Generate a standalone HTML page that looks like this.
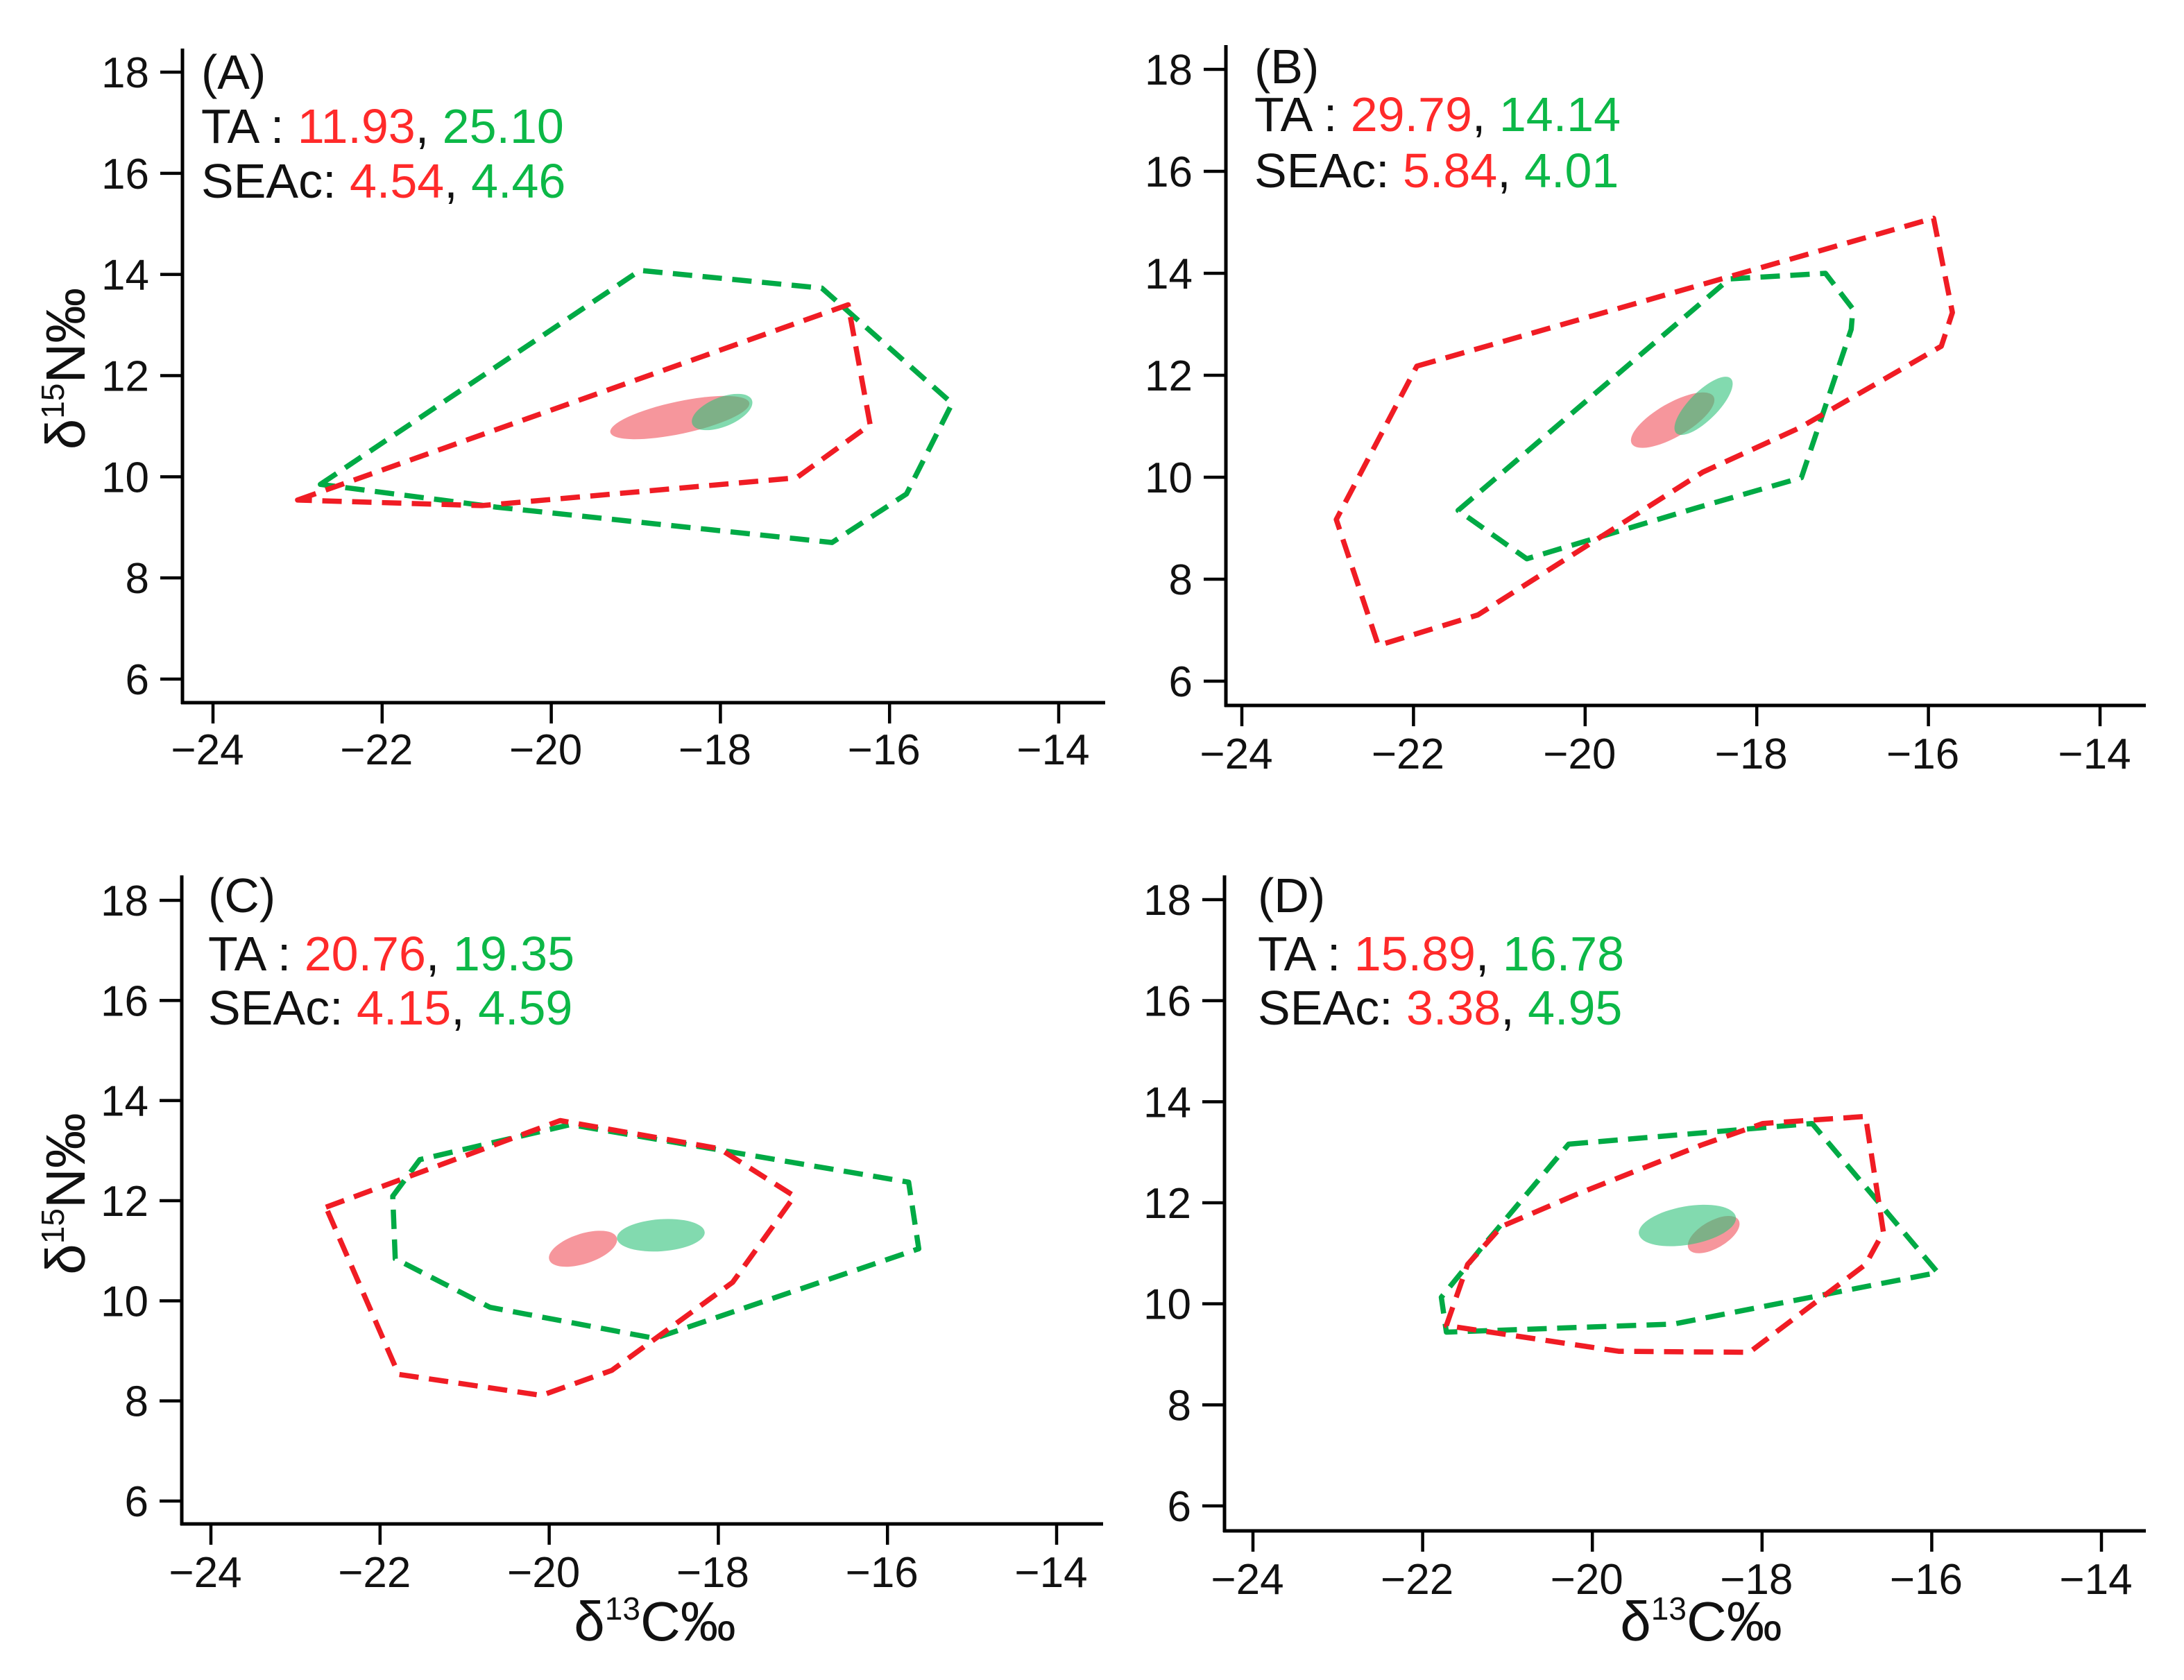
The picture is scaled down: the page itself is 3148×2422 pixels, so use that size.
<!DOCTYPE html>
<html><head><meta charset="utf-8">
<style>
html,body{margin:0;padding:0;background:#fff;}
svg{display:block;font-family:"Liberation Sans",Arial,sans-serif;}
</style></head>
<body>
<svg id="fig" width="3148" height="2422" viewBox="0 0 3148 2422" xmlns="http://www.w3.org/2000/svg">
<rect x="0" y="0" width="3148" height="2422" fill="#fff"/>
</svg>
<script>
// ---- data ----
const xTicks = [-24, -22, -20, -18, -16, -14];
const yTicks = [6, 8, 10, 12, 14, 16, 18];
const panelLabels = ["(A)", "(B)", "(C)", "(D)"];
const taRed = ["11.93", "29.79", "20.76", "15.89"];
const taGreen = ["25.10", "14.14", "19.35", "16.78"];
const seaRed = ["4.54", "5.84", "4.15", "3.38"];
const seaGreen = ["4.46", "4.01", "4.59", "4.95"];

const redHullA_x = [-23.0, -16.49, -16.23, -17.10, -20.82];
const redHullA_y = [9.54, 13.40, 11.03, 9.98, 9.43];
const greenHullA_x = [-22.73, -18.95, -16.80, -15.26, -15.80, -16.68, -20.65];
const greenHullA_y = [9.85, 14.08, 13.73, 11.45, 9.66, 8.70, 9.40];

const redHullB_x = [-21.96, -15.94, -15.72, -15.85, -17.5, -18.63, -21.25, -22.41, -22.9];
const redHullB_y = [12.18, 15.08, 13.23, 12.57, 10.97, 10.1, 7.3, 6.7, 9.17];
const greenHullB_x = [-21.48, -18.32, -17.2, -16.88, -16.9, -17.48, -18.7, -20.68];
const greenHullB_y = [9.35, 13.89, 14.0, 13.3, 12.9, 9.99, 9.4, 8.4];

const redHullC_x = [-22.64, -19.87, -17.99, -17.1, -17.83, -19.26, -20.09, -21.78];
const redHullC_y = [11.87, 13.6, 13.04, 12.09, 10.37, 8.61, 8.11, 8.53];
const greenHullC_x = [-21.85, -21.53, -19.75, -15.75, -15.63, -18.75, -20.7, -21.82];
const greenHullC_y = [12.09, 12.82, 13.52, 12.37, 11.04, 9.25, 9.87, 10.84];

const redHullD_x = [-21.72, -21.47, -21.07, -20.18, -18.72, -17.99, -16.78, -16.57, -16.78, -18.15, -19.69];
const redHullD_y = [9.57, 10.78, 11.53, 12.17, 13.14, 13.57, 13.71, 11.42, 10.78, 9.04, 9.06];
const greenHullD_x = [-20.28, -17.41, -15.93, -19.04, -21.72, -21.78, -21.31];
const greenHullD_y = [13.16, 13.57, 10.62, 9.6, 9.44, 10.13, 11.1];

// ellipses: centre x, centre y, semi-axes (x units, y units), screen angle
const redEllCx = [-18.48, -18.98, -19.6, -18.57];
const redEllCy = [11.17, 11.12, 11.04, 11.37];
const redEllRx = [0.84, 0.55, 0.42, 0.34];
const redEllRy = [0.32, 0.33, 0.30, 0.27];
const redEllAng = [-12, -30, -18, -30];
const greenEllCx = [-17.98, -18.62, -18.68, -18.88];
const greenEllCy = [11.28, 11.4, 11.31, 11.55];
const greenEllRx = [0.38, 0.45, 0.52, 0.58];
const greenEllRy = [0.29, 0.28, 0.32, 0.38];
const greenEllAng = [-22, -45, -4, -10];

const redHullsX = [redHullA_x, redHullB_x, redHullC_x, redHullD_x];
const redHullsY = [redHullA_y, redHullB_y, redHullC_y, redHullD_y];
const greenHullsX = [greenHullA_x, greenHullB_x, greenHullC_x, greenHullD_x];
const greenHullsY = [greenHullA_y, greenHullB_y, greenHullC_y, greenHullD_y];

// ---- layout (pixels) ----
const layout = [
  {ax:263, axY:1013, top:70, right:1593, x0:307, x1:1526, y18:104, y6:979, lx:290, b1:128, b2:206, b3:285, xlabBase:1102, yTitle:true, xTitle:false, xtc:0},
  {ax:1767, axY:1017, top:65, right:3093, x0:1790, x1:3027, y18:100, y6:982, lx:1808, b1:120, b2:189, b3:270, xlabBase:1108, yTitle:false, xTitle:false, xtc:0},
  {ax:262, axY:2197, top:1262, right:1590, x0:304, x1:1523, y18:1298, y6:2164, lx:300, b1:1315, b2:1399, b3:1477, xlabBase:2288, yTitle:true, xTitle:true, xtc:944},
  {ax:1765, axY:2207, top:1262, right:3093, x0:1806, x1:3029, y18:1297, y6:2171, lx:1813, b1:1315, b2:1399, b3:1477, xlabBase:2298, yTitle:false, xTitle:true, xtc:2452}
];
const RED = "#f01c24", GREEN = "#00aa45", TRED = "#ff2a2a", TGREEN = "#0cb847";
const NS = "http://www.w3.org/2000/svg";
const svg = document.getElementById("fig");
function mk(tag, attrs, parent){
  const e = document.createElementNS(NS, tag);
  for (const k in attrs) e.setAttribute(k, attrs[k]);
  (parent||svg).appendChild(e);
  return e;
}
const ids = ["a","b","c","d"];
layout.forEach((L, i) => {
  const g = mk("g", {});
  
  
  const sx = v => L.x0 + (v + 24) * (L.x1 - L.x0) / 10;
  const sy = v => L.y6 - (v - 6) * (L.y6 - L.y18) / 12;

  const drawHull = (xs, ys, col, nm) => {
    const pts = xs.map((x, k) => sx(x).toFixed(1) + "," + sy(ys[k]).toFixed(1)).join(" ");
    const p = mk("polygon", {points: pts, fill:"none", stroke: col, "stroke-width": 7.5, "stroke-dasharray": "28 15", "stroke-linejoin":"round"}, g);
    
    
  };
  drawHull(greenHullsX[i], greenHullsY[i], GREEN, 'green-convex-hull');
  drawHull(redHullsX[i], redHullsY[i], RED, 'red-convex-hull');

  const ppx = (L.x1 - L.x0) / 10, ppy = (L.y6 - L.y18) / 12;
  const re = mk("ellipse", {cx: sx(redEllCx[i]), cy: sy(redEllCy[i]), rx: redEllRx[i]*ppx, ry: redEllRy[i]*ppy,
    transform: "rotate(" + redEllAng[i] + " " + sx(redEllCx[i]) + " " + sy(redEllCy[i]) + ")", fill:"#f05560", "fill-opacity":0.62}, g);
  
  
  const ge = mk("ellipse", {cx: sx(greenEllCx[i]), cy: sy(greenEllCy[i]), rx: greenEllRx[i]*ppx, ry: greenEllRy[i]*ppy,
    transform: "rotate(" + greenEllAng[i] + " " + sx(greenEllCx[i]) + " " + sy(greenEllCy[i]) + ")", fill:"#2fc27a", "fill-opacity":0.6}, g);
  
  

  const ya = mk("line", {x1:L.ax, y1:L.top, x2:L.ax, y2:L.axY+2, stroke:"#000", "stroke-width":5}, g);
  
  
  const xa = mk("line", {x1:L.ax-2, y1:L.axY, x2:L.right, y2:L.axY, stroke:"#000", "stroke-width":5}, g);
  
  
  xTicks.forEach(t => {
    const x = sx(t);
    const tk = mk("line", {x1:x, y1:L.axY, x2:x, y2:L.axY+30, stroke:"#000", "stroke-width":4.5}, g);
    
    
    const tl = mk("text", {x:x-8, y:L.xlabBase, "font-size":62, "text-anchor":"middle", fill:"#111"}, g);
    tl.textContent = "\u2212" + Math.abs(t);
    
    
  });
  yTicks.forEach(t => {
    const y = sy(t);
    const tk = mk("line", {x1:L.ax-32, y1:y, x2:L.ax, y2:y, stroke:"#000", "stroke-width":4.5}, g);
    
    
    const tl = mk("text", {x:L.ax-48, y:y+22, "font-size":62, "text-anchor":"end", fill:"#111"}, g);
    tl.textContent = String(t);
    
    
  });

  const pl = mk("text", {x:L.lx, y:L.b1, "font-size":70, fill:"#111"}, g);
  pl.textContent = panelLabels[i];
  
  
  const ta = mk("text", {x:L.lx, y:L.b2, "font-size":70, fill:"#111"}, g);
  
  
  ta.innerHTML = 'TA : <tspan fill="' + TRED + '">' + taRed[i] + '</tspan>, <tspan fill="' + TGREEN + '">' + taGreen[i] + '</tspan>';
  const se = mk("text", {x:L.lx, y:L.b3, "font-size":70, fill:"#111"}, g);
  
  
  se.innerHTML = 'SEAc: <tspan fill="' + TRED + '">' + seaRed[i] + '</tspan>, <tspan fill="' + TGREEN + '">' + seaGreen[i] + '</tspan>';

  if (L.yTitle) {
    const cy = (L.y18 + L.y6) / 2 - 10;
    const yt = mk("text", {x:0, y:0, "font-size":80, "text-anchor":"middle", fill:"#111",
      transform:"translate(122," + cy + ") rotate(-90)"}, g);
    
    
    yt.innerHTML = 'δ<tspan font-size="46" dy="-30">15</tspan><tspan dy="30">N‰</tspan>';
  }
  if (L.xTitle) {
    const xt = mk("text", {x:L.xtc, y:2365, "font-size":80, "text-anchor":"middle", fill:"#111"}, g);
    
    
    xt.innerHTML = 'δ<tspan font-size="46" dy="-30">13</tspan><tspan dy="30">C‰</tspan>';
  }
});
</script>
</body></html>
